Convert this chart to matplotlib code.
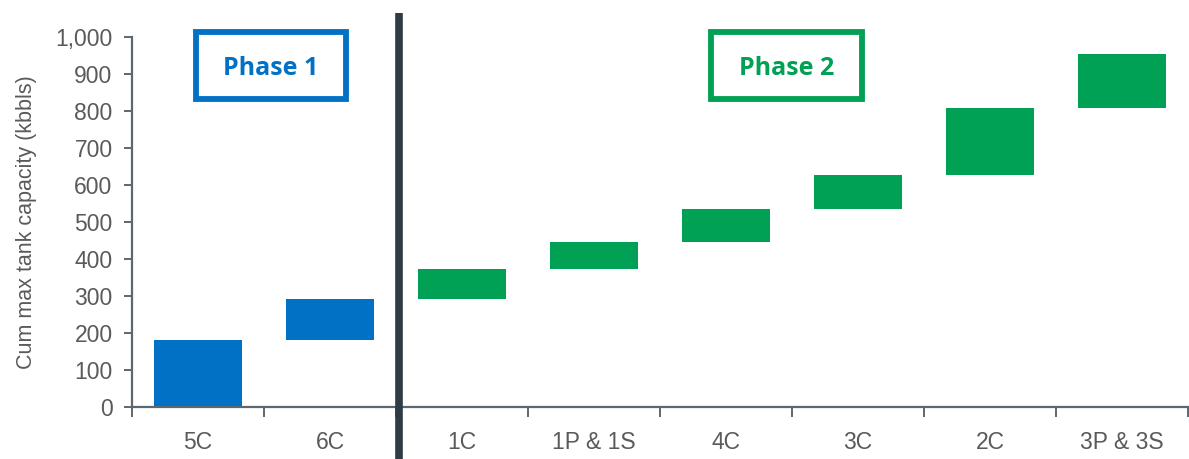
import matplotlib
matplotlib.use("Agg")
import matplotlib.pyplot as plt
from matplotlib.patches import Rectangle
from matplotlib.ticker import FixedLocator, FuncFormatter
import numpy as np

# ── Data ──────────────────────────────────────────────────────────────────────
TANKS      = ["5C", "6C", "1C", "1P & 1S", "4C", "3C", "2C", "3P & 3S"]
ADDED_KBBL = [180, 113, 80, 72, 90, 91, 182, 146]   # capacity added per tank
PHASE      = [1, 1, 2, 2, 2, 2, 2, 2]

BLUE  = "#0071c5"
GREEN = "#00a055"
DARK  = "#2f3b45"
GREY  = "#5a5a5a"
AXIS  = "#5d6770"

plt.rcParams.update({
    "font.family": ["Liberation Sans", "DejaVu Sans"],
    "figure.facecolor": "white",
    "axes.facecolor": "white",
})

W, H = 1189, 459
fig = plt.figure(figsize=(W / 100, H / 100), dpi=100)
ax = fig.add_axes([132 / W, (H - 407) / H, (1188 - 132) / W, 370 / H])

added = np.array(ADDED_KBBL)
tops = np.cumsum(added)
bottoms = tops - added
x = np.arange(len(TANKS))
colors = [BLUE if p == 1 else GREEN for p in PHASE]

ax.bar(x, added, bottom=bottoms, width=0.66, color=colors,
       edgecolor="none", zorder=2)

ax.set_xlim(-0.5, len(TANKS) - 0.5)
ax.set_ylim(0, 1000)

# axes styling
for s in ("top", "right"):
    ax.spines[s].set_visible(False)
for s in ("left", "bottom"):
    ax.spines[s].set_color(AXIS)
    ax.spines[s].set_linewidth(1.6)

ax.set_yticks(np.arange(0, 1001, 100))
ax.yaxis.set_major_formatter(FuncFormatter(lambda v, _: f"{int(v):,}"))
ax.tick_params(axis="y", length=6, width=1.4, color=AXIS,
               labelsize=16.5, labelcolor=GREY, pad=8)

ax.set_xticks(x)
ax.set_xticklabels(TANKS)
ax.xaxis.set_minor_locator(FixedLocator(np.arange(-0.5, len(TANKS), 1.0)))
ax.tick_params(axis="x", which="major", length=0, labelsize=16.5,
               labelcolor=GREY, pad=17)
ax.tick_params(axis="x", which="minor", length=7, width=1.4, color=AXIS)

ax.set_ylabel("Cum max tank capacity (kbbls)", fontsize=15.5,
              color=GREY, labelpad=13)

# phase divider
ax.plot([1.52, 1.52], [-0.145, 1.065], transform=ax.get_xaxis_transform(),
        color=DARK, lw=5.5, clip_on=False, zorder=4, solid_capstyle="butt")

# phase labels
def phase_box(x0, x1, y0, y1, text, color):
    fig.patches.append(Rectangle((x0 / W, 1 - y1 / H), (x1 - x0) / W,
                                 (y1 - y0) / H, transform=fig.transFigure,
                                 fill=False, edgecolor=color, lw=4.2))
    fig.text((x0 + x1) / 2 / W, 1 - ((y0 + y1) / 2 + 3) / H, text,
             ha="center", va="center", fontsize=18, fontweight="bold",
             color=color, family=["Open Sans", "DejaVu Sans"])

phase_box(196, 346, 32, 99, "Phase 1", BLUE)
phase_box(711, 862, 32, 99, "Phase 2", GREEN)

fig.savefig("out.png", dpi=100)
